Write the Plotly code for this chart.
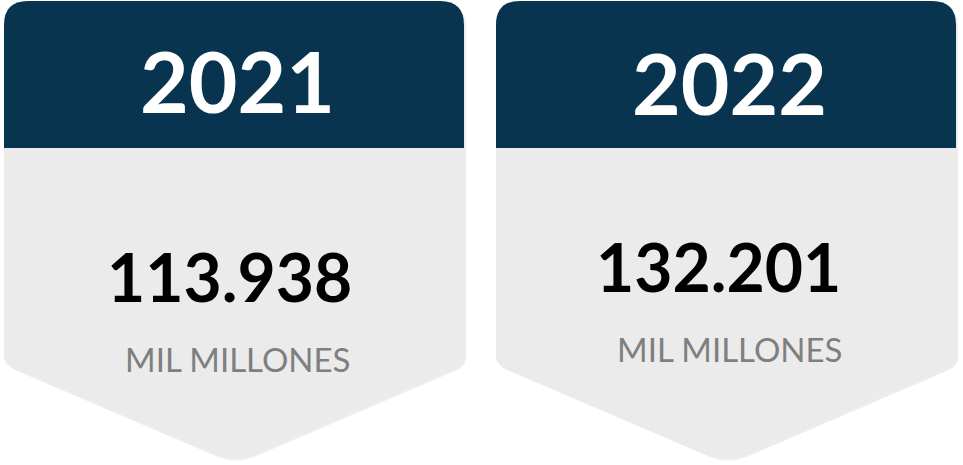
import plotly.graph_objects as go

years = ["2021", "2022"]
values = ["113.938", "132.201"]
units = ["MIL MILLONES", "MIL MILLONES"]

HEADER = "#08344F"
BODY = "#EBEBEB"
W, H = 963, 465

# card geometry (pixels)
cards = [dict(x0=4, x1=464, dx_num=-5, dy_num=0, dx_unit=4, dy_unit=0),
         dict(x0=496, x1=956, dx_num=-8, dy_num=-10, dx_unit=4, dy_unit=-10)]
top, head_b, side_b, tip = 1, 148, 356, 462
r = 24


def card_path(x0, x1, off=0):
    cx = (x0 + x1) / 2
    x0, x1 = x0 + off, x1 + off
    cx += off
    t, sb, tp = top + off, side_b + off, tip + off
    return (f"M {x0},{t + r} Q {x0},{t} {x0 + r},{t} L {x1 - r},{t} Q {x1},{t} {x1},{t + r} "
            f"L {x1},{sb} Q {x1},{sb + 8} {x1 - 9},{sb + 12} "
            f"L {cx + 18},{tp - 7} Q {cx},{tp} {cx - 18},{tp - 7} "
            f"L {x0 + 9},{sb + 12} Q {x0},{sb + 8} {x0},{sb} Z")


def head_path(x0, x1):
    return (f"M {x0},{head_b} L {x0},{top + r} Q {x0},{top} {x0 + r},{top} "
            f"L {x1 - r},{top} Q {x1},{top} {x1},{top + r} L {x1},{head_b} Z")


fig = go.Figure()
shapes = []
for c in cards:
    shapes.append(dict(type="path", path=card_path(c["x0"], c["x1"], 2),
                       fillcolor="rgba(0,0,0,0.07)", line=dict(width=0), layer="below"))
    shapes.append(dict(type="path", path=card_path(c["x0"], c["x1"]),
                       fillcolor=BODY, line=dict(width=0), layer="below"))
    shapes.append(dict(type="path", path=head_path(c["x0"], c["x1"]),
                       fillcolor=HEADER, line=dict(width=0), layer="below"))

annotations = []
for c, yr, val, unit in zip(cards, years, values, units):
    cx = (c["x0"] + c["x1"]) / 2
    annotations.append(dict(x=cx + 3, y=80 + (2 if yr == "2022" else 0), text=f"<b>{yr}</b>",
                            showarrow=False, xanchor="center", yanchor="middle",
                            font=dict(family="Lato", size=84, color="white")))
    annotations.append(dict(x=cx + c["dx_num"], y=276 + c["dy_num"], text=f"<b>{val}</b>",
                            showarrow=False, xanchor="center", yanchor="middle",
                            font=dict(family="Lato", size=66, color="black")))
    annotations.append(dict(x=cx + c["dx_unit"], y=359 + c["dy_unit"], text=unit,
                            showarrow=False, xanchor="center", yanchor="middle",
                            font=dict(family="Lato", size=33, color="#7F7F7F")))

fig.update_layout(
    width=W, height=H,
    margin=dict(l=0, r=0, t=0, b=0),
    paper_bgcolor="white", plot_bgcolor="white",
    xaxis=dict(range=[0, W], visible=False, fixedrange=True),
    yaxis=dict(range=[H, 0], visible=False, fixedrange=True),
    shapes=shapes, annotations=annotations,
    showlegend=False,
)
fig.write_html("out.html", config={"displayModeBar": False},
               post_script="document.body.style.margin='0';")
